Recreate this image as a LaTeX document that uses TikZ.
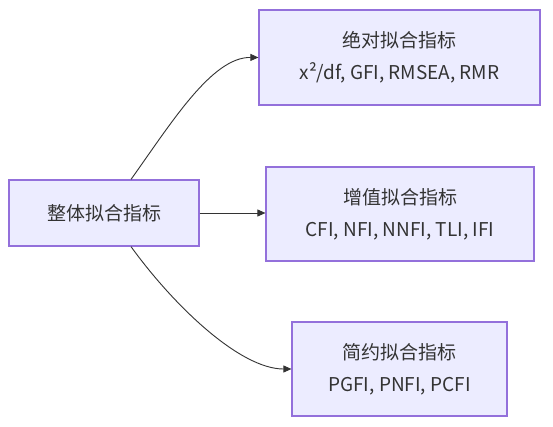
\documentclass[tikz,border=0pt]{standalone}
\usepackage{fontspec}
\setmainfont{Noto Sans CJK SC}
\usetikzlibrary{arrows.meta}
\definecolor{fond}{HTML}{ECECFF}
\definecolor{bord}{HTML}{9370DB}
\definecolor{encre}{HTML}{333333}
\begin{document}
\begin{tikzpicture}[x=1pt,y=-1pt,
  boite/.style={draw=bord, fill=fond, line width=1.2pt, text=encre, align=center,
    font=\fontsize{19}{32}\selectfont, inner sep=0pt},
  fleche/.style={draw=encre, line width=0.9pt, -{Triangle[length=8pt,width=7pt]}}]

\useasboundingbox[fill=white] (0,0) rectangle (553,426);

%% ================= indice global ==========================================
\node[boite, minimum width=190pt, minimum height=66pt] (global) at (104,213)
  {整体拟合指标};

%% ================= trois familles =========================================
\node[boite, minimum width=281pt, minimum height=95pt] (absolu) at (399.5,57.5)
  {绝对拟合指标\\x²/df, GFI, RMSEA, RMR};
\node[boite, minimum width=268pt, minimum height=94pt] (increment) at (400,214)
  {增值拟合指标\\CFI, NFI, NNFI, TLI, IFI};
\node[boite, minimum width=215pt, minimum height=94pt] (parcimonie) at (399.5,369)
  {简约拟合指标\\PGFI, PNFI, PCFI};

%% ================= liens ==================================================
\draw[fleche] ([xshift=27pt]global.north) .. controls (172,122) and (212,57) .. (absolu.west);
\draw[fleche] (global.east) -- (global.east -| increment.west);
\draw[fleche] ([xshift=27pt]global.south) .. controls (174,306) and (240,369) .. (parcimonie.west);
\end{tikzpicture}
\end{document}
